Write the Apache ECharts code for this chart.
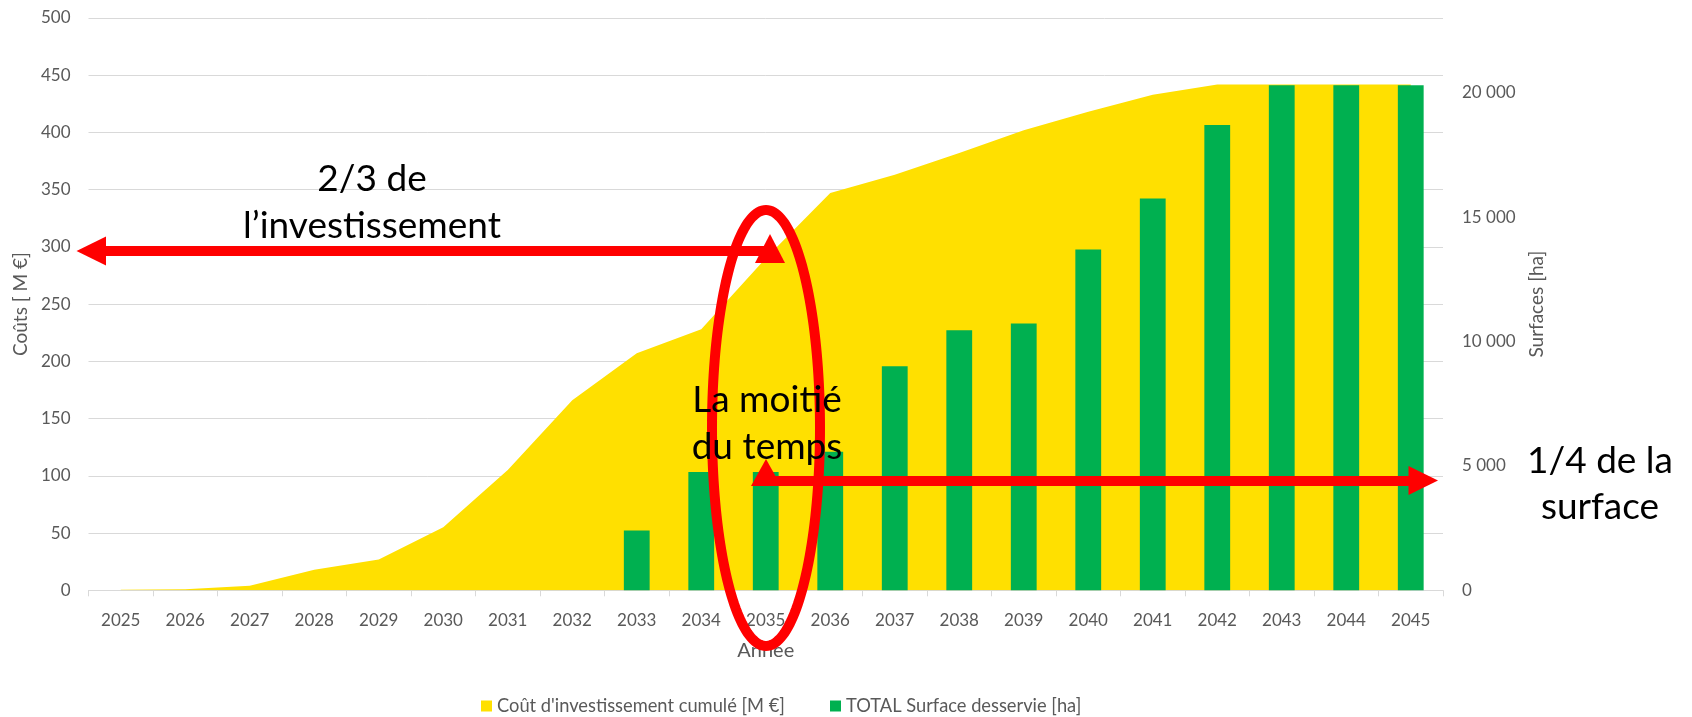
<!DOCTYPE html>
<html>
<head>
<meta charset="utf-8">
<script src="https://cdn.jsdelivr.net/npm/echarts@6/dist/echarts.min.js"></script>
<style>
  html, body { margin: 0; padding: 0; background: #fff; }
  #chart { width: 1692px; height: 717px; }
</style>
</head>
<body>
<div id="chart"></div>
<script>
// ---- Data ----
const years = ['2025','2026','2027','2028','2029','2030','2031','2032','2033','2034','2035',
               '2036','2037','2038','2039','2040','2041','2042','2043','2044','2045'];
const coutCumule = [0.5, 1, 4, 18, 27, 55, 105, 166, 207, 228, 290,
                    347, 363, 382, 402, 418, 433, 442, 442, 442, 442];
const surfaceDesservie = [0, 0, 0, 0, 0, 0, 0, 0, 2400, 4750, 4750,
                          5570, 9000, 10450, 10720, 13700, 15750, 18700, 20300, 20300, 20300];
const leftTicks = { min: 0, max: 500, interval: 50 };
const rightTicks = { min: 0, max: 23000, interval: 5000 };
const seriesNames = ["Coût d'investissement cumulé [M €]", 'TOTAL Surface desservie [ha]'];

// ---- Style ----
const FONT = 'Lato, "Open Sans", sans-serif';
const GRAY = '#595959';
const YELLOW = '#FFE000';
const GREEN = '#00B050';
const RED = '#FF0000';

const chart = echarts.init(document.getElementById('chart'), null, { renderer: 'canvas', width: 1692, height: 717 });

function fmtSpace(v) { return String(v).replace(/\B(?=(\d{3})+(?!\d))/g, ' '); }

// ellipse outline points (annotation shape)
function ellipsePts(cx, cy, rx, ry, n) {
  const pts = [];
  for (let i = 0; i < n; i++) {
    const a = (i / n) * Math.PI * 2;
    pts.push([cx + rx * Math.cos(a), cy + ry * Math.sin(a)]);
  }
  return pts;
}

const annText = (txt, x, y) => ({
  type: 'text', z: 110, x: x, y: y,
  style: { text: txt, fill: '#000', font: '37px ' + FONT, textAlign: 'center', textVerticalAlign: 'middle' }
});

const legendText = { color: GRAY, fontSize: 18.3, fontFamily: FONT };

const option = {
  animation: false,
  backgroundColor: '#fff',
  textStyle: { fontFamily: FONT },
  grid: { left: 88.5, right: 249, top: 18, bottom: 126.7, containLabel: false },
  legend: [
    { data: [seriesNames[0]], left: 481, top: 697, padding: 0, itemWidth: 11, itemHeight: 11, icon: 'rect',
      textStyle: legendText },
    { data: [seriesNames[1]], left: 830, top: 697, padding: 0, itemWidth: 11, itemHeight: 11, icon: 'rect',
      textStyle: legendText }
  ],
  xAxis: {
    type: 'category', data: years, boundaryGap: true,
    name: 'Année', nameLocation: 'middle', nameGap: 50,
    nameTextStyle: { color: GRAY, fontSize: 20, fontFamily: FONT },
    axisLine: { lineStyle: { color: '#D9D9D9', width: 1 } },
    axisTick: { show: true, length: 6, lineStyle: { color: '#D9D9D9' } },
    axisLabel: { color: GRAY, fontSize: 17, fontFamily: FONT, margin: 22 }
  },
  yAxis: [
    {
      type: 'value', min: leftTicks.min, max: leftTicks.max, interval: leftTicks.interval,
      name: 'Coûts [ M €]', nameLocation: 'middle', nameGap: 57, nameRotate: 90,
      nameTextStyle: { color: GRAY, fontSize: 19, fontFamily: FONT },
      axisLine: { show: false }, axisTick: { show: false },
      axisLabel: { color: GRAY, fontSize: 17, fontFamily: FONT, margin: 18 },
      splitLine: { show: true, lineStyle: { color: '#D9D9D9', width: 1 } }
    },
    {
      type: 'value', min: rightTicks.min, max: rightTicks.max, interval: rightTicks.interval,
      name: 'Surfaces [ha]', nameLocation: 'middle', nameGap: 84, nameRotate: 90,
      nameTextStyle: { color: GRAY, fontSize: 19, fontFamily: FONT },
      axisLine: { show: false }, axisTick: { show: false },
      axisLabel: { color: GRAY, fontSize: 17, fontFamily: FONT, margin: 19, showMaxLabel: false,
                   formatter: fmtSpace },
      splitLine: { show: false }
    }
  ],
  series: [
    {
      name: seriesNames[0], type: 'line', yAxisIndex: 0, data: coutCumule, z: 2,
      symbol: 'none', lineStyle: { width: 0, color: YELLOW },
      itemStyle: { color: YELLOW },
      areaStyle: { color: YELLOW, opacity: 1 }
    },
    {
      name: seriesNames[1], type: 'bar', yAxisIndex: 1, data: surfaceDesservie, z: 3,
      barWidth: '40%', itemStyle: { color: GREEN }
    }
  ],
  graphic: [
    // upper arrow (2/3 de l'investissement)
    { type: 'line', z: 100, shape: { x1: 100, y1: 251, x2: 768, y2: 251 }, style: { stroke: RED, lineWidth: 10 } },
    { type: 'polygon', z: 100, shape: { points: [[76.5, 251], [106, 236.5], [106, 265.5]] }, style: { fill: RED } },
    { type: 'polygon', z: 100, shape: { points: [[770, 234], [755, 263], [785, 263]] }, style: { fill: RED } },
    // lower arrow (1/4 de la surface)
    { type: 'line', z: 100, shape: { x1: 760, y1: 481, x2: 1412, y2: 481 }, style: { stroke: RED, lineWidth: 10 } },
    { type: 'polygon', z: 100, shape: { points: [[1438, 480.5], [1408.5, 466], [1408.5, 495]] }, style: { fill: RED } },
    { type: 'polygon', z: 100, shape: { points: [[766, 459], [751, 486], [781, 486]] }, style: { fill: RED } },
    // ellipse
    { type: 'polygon', z: 101, shape: { points: ellipsePts(766, 428, 54, 218, 180) },
      style: { fill: null, stroke: RED, lineWidth: 10 } },
    // texts
    annText('2/3 de', 372, 179),
    annText('l’investissement', 372, 226),
    annText('La moitié', 767, 400),
    annText('du temps', 767, 447),
    annText('1/4 de la', 1600, 461),
    annText('surface', 1600, 507)
  ]
};

chart.setOption(option);
</script>
</body>
</html>
